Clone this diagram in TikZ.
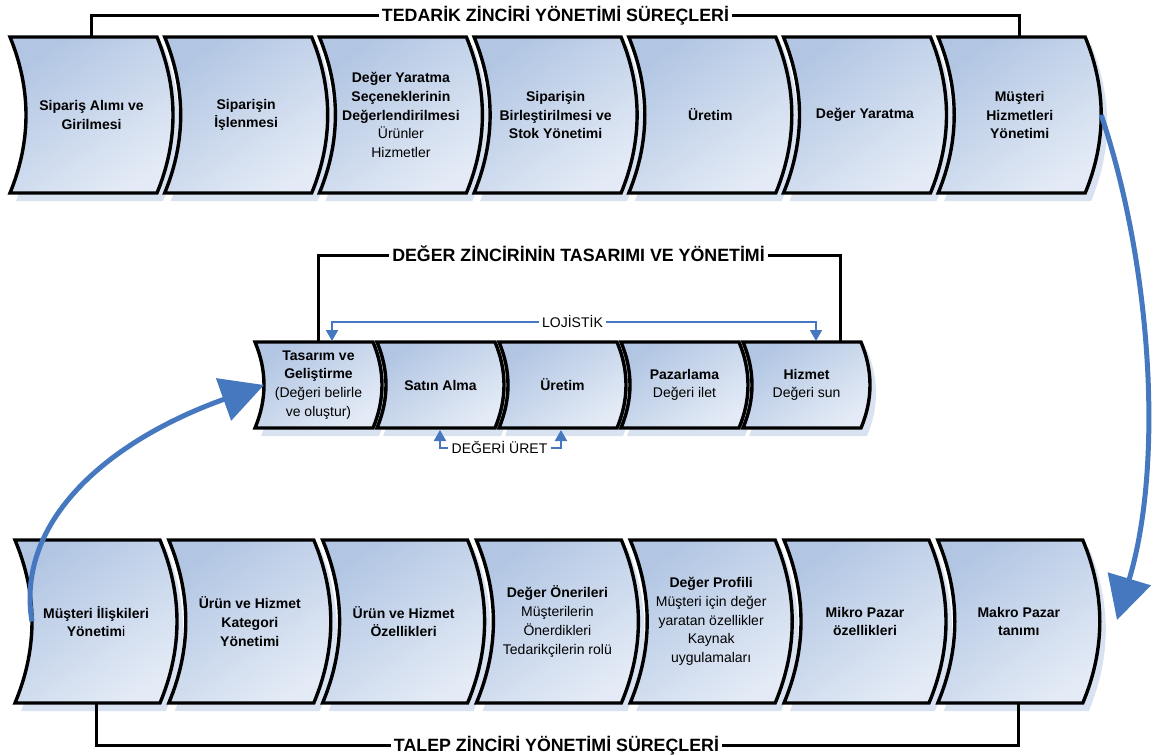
\documentclass[tikz,border=0pt]{standalone}
\usepackage{fontspec}
\setmainfont{Liberation Sans}
\usetikzlibrary{arrows.meta}

\definecolor{segdark}{RGB}{178,198,227}
\definecolor{seglight}{RGB}{228,235,246}
\definecolor{segshadow}{RGB}{216,226,241}
\definecolor{flowblue}{RGB}{70,120,192}

\newcommand{\reg}[1]{{\mdseries #1}}
\newcommand{\segpath}[5]{({#1},{#2}) -- ({#1+#3},{#2})
	.. controls ({#1+#3+4/3*#5},{#2+#4/3}) and ({#1+#3+4/3*#5},{#2+2*#4/3}) .. ({#1+#3},{#2+#4})
	-- ({#1},{#2+#4})
	.. controls ({#1+4/3*#5},{#2+2*#4/3}) and ({#1+4/3*#5},{#2+#4/3}) .. cycle}
\newcommand{\segment}[6]{%
	\fill[segshadow,shift={(6,8)}] \segpath{#1}{#2}{#3}{#4}{#5};
	\shadedraw[seg] \segpath{#1}{#2}{#3}{#4}{#5};
	\coordinate (#6) at ({#1+#3/2+#5/2},{#2+#4/2});
	\coordinate (#6-t) at ({#1+#3/2+#5/2},{#2});
	\coordinate (#6-b) at ({#1+#3/2+#5/2},{#2+#4});
	\coordinate (#6-l) at ({#1+#5},{#2+#4/2});
	\coordinate (#6-r) at ({#1+#3+#5},{#2+#4/2});
}

\begin{document}
\begin{tikzpicture}[x=1pt,y=-1pt,
		seg/.style={draw=black,line width=3.4pt,top color=segdark,bottom color=seglight,shading angle=35},
		seglabel/.style={align=center,inner sep=0pt,font=\bfseries\fontsize{14}{18.7}\selectfont},
		chaintitle/.style={inner sep=3pt,text height=12.9pt,text depth=0pt,font=\bfseries\fontsize{17.8}{20}\selectfont},
		bracket/.style={line width=3pt},
		flownote/.style={inner sep=3pt,text height=10pt,text depth=0pt,font=\fontsize{14}{16}\selectfont},
		thinflow/.style={flowblue,line width=2pt,-{Triangle[width=12pt,length=11pt]}},
		bigflow/.style={flowblue,line width=5pt,-{Triangle[width=44pt,length=43pt]}}]
	\useasboundingbox (0,0) rectangle (1163,755);

	% tedarik zinciri
	\foreach \lbl [count=\i] in {{Sipariş Alımı ve\\Girilmesi},{Siparişin\\İşlenmesi},
		{Değer Yaratma\\Seçeneklerinin\\Değerlendirilmesi\\\reg{Ürünler}\\\reg{Hizmetler}},
		{Siparişin\\Birleştirilmesi ve\\Stok Yönetimi},{Üretim},{Değer Yaratma},
		{Müşteri\\Hizmetleri\\Yönetimi}}{
		\segment{10+(\i-1)*154.7}{37}{147}{156}{16}{tz\i}
		\node[seglabel] (tzl\i) at (tz\i) {\lbl};
	}
	\node[chaintitle] (tztitle) at (555.5,15) {TEDARİK ZİNCİRİ YÖNETİMİ SÜREÇLERİ};
	\draw[bracket] (tz1-t) |- (tztitle.west);
	\draw[bracket] (tztitle.east) -| (tz7-t);

	% deger zinciri
	\foreach \lbl [count=\i] in {{Tasarım ve\\Geliştirme\\\reg{(Değeri belirle}\\\reg{ve oluştur)}},
		{Satın Alma},{Üretim},{Pazarlama\\\reg{Değeri ilet}},{Hizmet\\\reg{Değeri sun}}}{
		\segment{255+(\i-1)*122}{342}{118}{86}{9}{dz\i}
		\node[seglabel] (dzl\i) at (dz\i) {\lbl};
	}
	\node[chaintitle] (dztitle) at (578.5,255) {DEĞER ZİNCİRİNİN TASARIMI VE YÖNETİMİ};
	\coordinate (dzend) at (840,342);
	\draw[bracket] (dz1-t) |- (dztitle.west);
	\draw[bracket] (dztitle.east) -| (dzend);

	\node[flownote] (lojistik) at (572.5,322) {LOJİSTİK};
	\coordinate (lojin) at (332,341);
	\coordinate (lojout) at (816,341);
	\draw[thinflow] (lojistik.west) -| (lojin);
	\draw[thinflow] (lojistik.east) -| (lojout);

	\node[flownote] (uret) at (499.5,448) {DEĞERİ ÜRET};
	\coordinate (uretin) at (440,430);
	\coordinate (uretout) at (561,430);
	\draw[thinflow] (uret.west) -| (uretin);
	\draw[thinflow] (uret.east) -| (uretout);

	% talep zinciri
	\foreach \lbl [count=\i] in {{Müşteri İlişkileri\\Yönetim\reg{i}},{Ürün ve Hizmet\\Kategori\\Yönetimi},
		{Ürün ve Hizmet\\Özellikleri},
		{Değer Önerileri\\\reg{Müşterilerin}\\\reg{Önerdikleri}\\\reg{Tedarikçilerin rolü}},
		{Değer Profili\\\reg{Müşteri için değer}\\\reg{yaratan özellikler}\\\reg{Kaynak}\\\reg{uygulamaları}},
		{Mikro Pazar\\özellikleri},{Makro Pazar\\tanımı}}{
		\segment{15+(\i-1)*153.8}{540}{145}{163}{17}{tl\i}
		\node[seglabel] (tll\i) at (tl\i) {\lbl};
	}
	\node[chaintitle] (tltitle) at (556.5,745) {TALEP ZİNCİRİ YÖNETİMİ SÜREÇLERİ};
	\draw[bracket] (tl1-b) |- (tltitle.west);
	\draw[bracket] (tltitle.east) -| (tl7-b);

	% donguler
	\coordinate (flowend) at (1117,620);
	\draw[bigflow] (tz7-r) .. controls (1150,260) and (1165,460) .. (flowend);
	\draw[bigflow] (tl1-l) .. controls (15,520) and (110,440) .. (dz1-l);
\end{tikzpicture}
\end{document}
